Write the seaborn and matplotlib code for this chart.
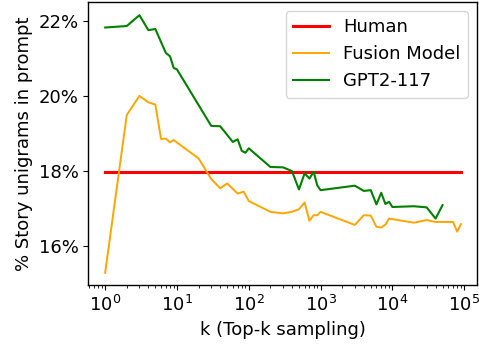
import matplotlib
matplotlib.use("Agg")
import matplotlib.pyplot as plt
import seaborn as sns
import pandas as pd
import numpy as np
from matplotlib.ticker import FuncFormatter, LogLocator

human_k = [1, 90000]
human_val = [17.97, 17.97]

fusion_k = [1, 2, 3, 4, 5, 6, 7, 8, 9, 20, 30, 40, 50, 70, 85, 100, 200, 300, 400,
            500, 600, 700, 800, 900, 1000, 3000, 4000, 5000, 6000, 7000, 8000, 9000,
            20000, 30000, 40000, 70000, 80000, 90000]
fusion_val = [15.27, 19.49, 20.0, 19.83, 19.77, 18.85, 18.86, 18.76, 18.82, 18.33, 17.78,
              17.53, 17.66, 17.39, 17.44, 17.19, 16.9, 16.86, 16.9, 16.97, 17.15, 16.66,
              16.81, 16.81, 16.9, 16.55, 16.81, 16.8, 16.5, 16.48, 16.56, 16.72,
              16.61, 16.68, 16.63, 16.63, 16.37, 16.57]

gpt_k = [1, 2, 3, 4, 5, 7, 8, 9, 10, 30, 40, 60, 70, 80, 90, 100, 200, 300, 400, 500,
         600, 700, 800, 900, 1000, 3000, 4000, 5000, 6000, 7000, 8000, 9000, 10000,
         20000, 30000, 40000, 50000]
gpt_val = [21.83, 21.87, 22.16, 21.76, 21.79, 21.15, 21.06, 20.75, 20.71, 19.2, 19.19,
           18.77, 18.84, 18.53, 18.48, 18.6, 18.1, 18.09, 17.99, 17.5, 17.93, 17.79,
           17.97, 17.61, 17.48, 17.6, 17.46, 17.48, 17.1, 17.41, 17.11, 17.17, 17.03,
           17.05, 17.02, 16.72, 17.08]

plt.rcParams['font.family'] = ['DejaVu Sans']
plt.rcParams['font.size'] = 13

fig = plt.figure(figsize=(4.79, 3.49), dpi=100)
ax = fig.add_axes([0.184, 0.183, 0.812, 0.811])

df_h = pd.DataFrame({"k": human_k, "v": human_val})
df_f = pd.DataFrame({"k": fusion_k, "v": fusion_val})
df_g = pd.DataFrame({"k": gpt_k, "v": gpt_val})

sns.lineplot(data=df_h, x="k", y="v", ax=ax, color="red", linewidth=2.2, label="Human", estimator=None)
sns.lineplot(data=df_f, x="k", y="v", ax=ax, color="orange", linewidth=1.4, label="Fusion Model", estimator=None)
sns.lineplot(data=df_g, x="k", y="v", ax=ax, color="green", linewidth=1.5, label="GPT2-117", estimator=None)

ax.set_xscale("log")
ax.set_xlim(10 ** -0.237, 10 ** 5.18)
ax.set_ylim(14.94, 22.51)
ax.set_yticks([16, 18, 20, 22])
ax.xaxis.set_minor_locator(LogLocator(base=10, subs=np.arange(2, 10), numticks=20))
ax.yaxis.set_major_formatter(FuncFormatter(lambda v, p: f"{v:.0f}%"))
ax.set_xlabel("k (Top-k sampling)", fontsize=13)
ax.set_ylabel("% Story unigrams in prompt", fontsize=13)
ax.tick_params(which="major", labelsize=13, length=3.5, width=0.8, direction="out")
ax.tick_params(which="minor", length=2, width=0.6, direction="out")
for s in ax.spines.values():
    s.set_linewidth(1.0)
    s.set_color("black")
ax.legend(loc="upper right", fontsize=13, frameon=True)

fig.savefig("out.png", dpi=100)
